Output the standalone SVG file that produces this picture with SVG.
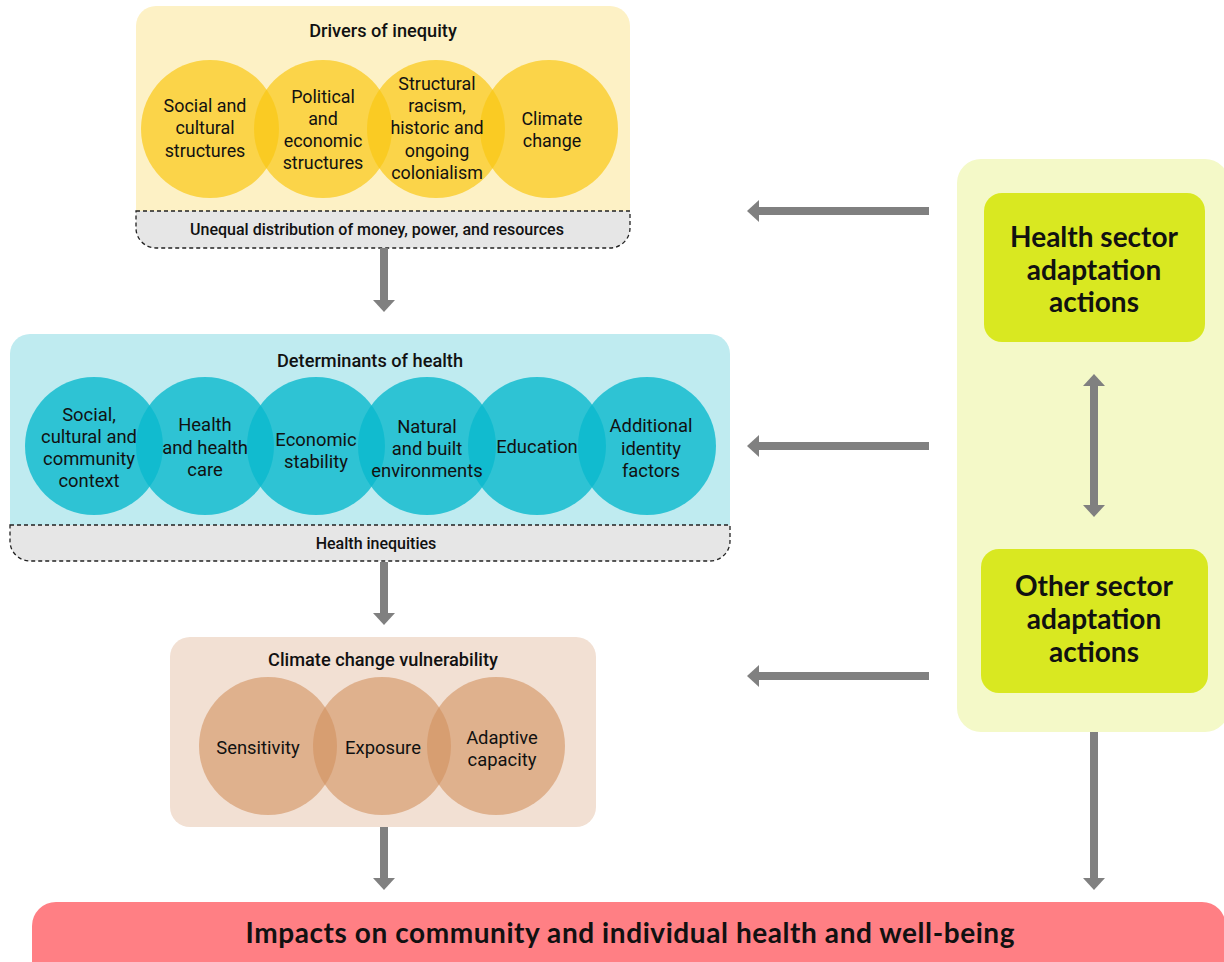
<svg xmlns="http://www.w3.org/2000/svg" width="1224" height="962" viewBox="0 0 1224 962">
<style>
.t{font-family:Roboto,"Liberation Sans",sans-serif;font-size:18.4px;fill:#111;text-anchor:middle}
.ty{font-size:17.9px}
.h{font-family:Roboto,"Liberation Sans",sans-serif;font-size:18.2px;font-weight:500;fill:#111;text-anchor:middle}
.s{font-family:Roboto,"Liberation Sans",sans-serif;font-size:16px;font-weight:500;fill:#111;text-anchor:middle}
.g{font-family:Lato,"Noto Sans",sans-serif;font-size:28px;font-weight:700;fill:#111;text-anchor:middle}
.bar{fill:#E6E6E6;stroke:#222;stroke-width:1.3;stroke-dasharray:4 3}
.cy{fill:#F9C814;fill-opacity:0.7}
.ct{fill:#0AB9CD;fill-opacity:0.8}
.cb{fill:#D2915F;fill-opacity:0.6}
.ar{stroke:#808080;stroke-width:8;fill:none}
</style>
<defs>
<marker id="ah" markerUnits="userSpaceOnUse" markerWidth="12" markerHeight="22" viewBox="0 0 12 22" refX="0" refY="11" orient="auto-start-reverse">
<path d="M0,0 L12,11 L0,22 Z" fill="#808080"/>
</marker>
</defs>

<g id="drivers">
<rect x="136" y="6" width="494" height="230" rx="20" fill="#FDF1C5"/>
<path class="bar" d="M136,211 H630 V228 a20,20 0 0 1 -20,20 H156 a20,20 0 0 1 -20,-20 Z"/>
<text class="h" x="383" y="37">Drivers of inequity</text>
<circle class="cy" cx="210" cy="129" r="69"/>
<circle class="cy" cx="323" cy="129" r="69"/>
<circle class="cy" cx="436" cy="129" r="69"/>
<circle class="cy" cx="549" cy="129" r="69"/>
<text class="t ty" x="205" y="112">Social and</text>
<text class="t ty" x="205" y="134">cultural</text>
<text class="t ty" x="205" y="157">structures</text>
<text class="t ty" x="323" y="103">Political</text>
<text class="t ty" x="323" y="125">and</text>
<text class="t ty" x="323" y="147">economic</text>
<text class="t ty" x="323" y="169">structures</text>
<text class="t ty" x="437" y="90">Structural</text>
<text class="t ty" x="437" y="112">racism,</text>
<text class="t ty" x="437" y="134">historic and</text>
<text class="t ty" x="437" y="157">ongoing</text>
<text class="t ty" x="437" y="179">colonialism</text>
<text class="t ty" x="552" y="125">Climate</text>
<text class="t ty" x="552" y="147">change</text>
<text class="s" x="377" y="235">Unequal distribution of money, power, and resources</text>
</g>

<g id="determinants">
<rect x="10" y="334" width="720" height="210" rx="20" fill="#BFEBF0"/>
<path class="bar" d="M10,525 H730 V541 a20,20 0 0 1 -20,20 H30 a20,20 0 0 1 -20,-20 Z"/>
<text class="h" x="370" y="367">Determinants of health</text>
<circle class="ct" cx="94" cy="446" r="69"/>
<circle class="ct" cx="205" cy="446" r="69"/>
<circle class="ct" cx="316" cy="446" r="69"/>
<circle class="ct" cx="427" cy="446" r="69"/>
<circle class="ct" cx="537" cy="446" r="69"/>
<circle class="ct" cx="647" cy="446" r="69"/>
<text class="t" x="89" y="421">Social,</text>
<text class="t" x="89" y="443">cultural and</text>
<text class="t" x="89" y="465">community</text>
<text class="t" x="89" y="487">context</text>
<text class="t" x="205" y="431">Health</text>
<text class="t" x="205" y="454">and health</text>
<text class="t" x="205" y="476">care</text>
<text class="t" x="316" y="446">Economic</text>
<text class="t" x="316" y="468">stability</text>
<text class="t" x="427" y="433">Natural</text>
<text class="t" x="427" y="455">and built</text>
<text class="t" x="427" y="477">environments</text>
<text class="t" x="537" y="453">Education</text>
<text class="t" x="651" y="432">Additional</text>
<text class="t" x="651" y="455">identity</text>
<text class="t" x="651" y="477">factors</text>
<text class="s" x="376" y="549">Health inequities</text>
</g>

<g id="vulnerability">
<rect x="170" y="637" width="426" height="190" rx="20" fill="#F2E0D3"/>
<text class="h" x="383" y="666">Climate change vulnerability</text>
<circle class="cb" cx="268" cy="746" r="69"/>
<circle class="cb" cx="382" cy="746" r="69"/>
<circle class="cb" cx="496" cy="746" r="69"/>
<text class="t" x="258" y="754">Sensitivity</text>
<text class="t" x="383" y="754">Exposure</text>
<text class="t" x="502" y="744">Adaptive</text>
<text class="t" x="502" y="766">capacity</text>
</g>

<g id="adaptation-panel">
<rect x="957" y="159" width="272" height="573" rx="24" fill="#F4F9C8"/>
</g>

<g id="health-sector">
<rect x="984" y="193" width="221" height="149" rx="18" fill="#D9E821"/>
<text class="g" x="1094" y="247">Health sector</text>
<text class="g" x="1094" y="280">adaptation</text>
<text class="g" x="1094" y="312">actions</text>
</g>

<g id="other-sector">
<rect x="981" y="549" width="227" height="144" rx="18" fill="#D9E821"/>
<text class="g" x="1094" y="596">Other sector</text>
<text class="g" x="1094" y="629">adaptation</text>
<text class="g" x="1094" y="662">actions</text>
</g>

<g id="impacts">
<rect x="32" y="902" width="1194" height="90" rx="24" fill="#FF7F84"/>
<text class="g" x="630" y="943" font-size="27" textLength="769" lengthAdjust="spacing">Impacts on community and individual health and well-being</text>
</g>

<g id="connectors">
<line class="ar" x1="929" y1="211" x2="759" y2="211" marker-end="url(#ah)"/>
<line class="ar" x1="929" y1="446" x2="759" y2="446" marker-end="url(#ah)"/>
<line class="ar" x1="929" y1="676" x2="759" y2="676" marker-end="url(#ah)"/>
<line class="ar" x1="384" y1="248" x2="384" y2="300" marker-end="url(#ah)"/>
<line class="ar" x1="384" y1="562" x2="384" y2="613" marker-end="url(#ah)"/>
<line class="ar" x1="384" y1="827" x2="384" y2="878" marker-end="url(#ah)"/>
<line class="ar" x1="1094" y1="732" x2="1094" y2="878" marker-end="url(#ah)"/>
<line class="ar" x1="1094" y1="386" x2="1094" y2="505" marker-start="url(#ah)" marker-end="url(#ah)"/>
</g>
</svg>
